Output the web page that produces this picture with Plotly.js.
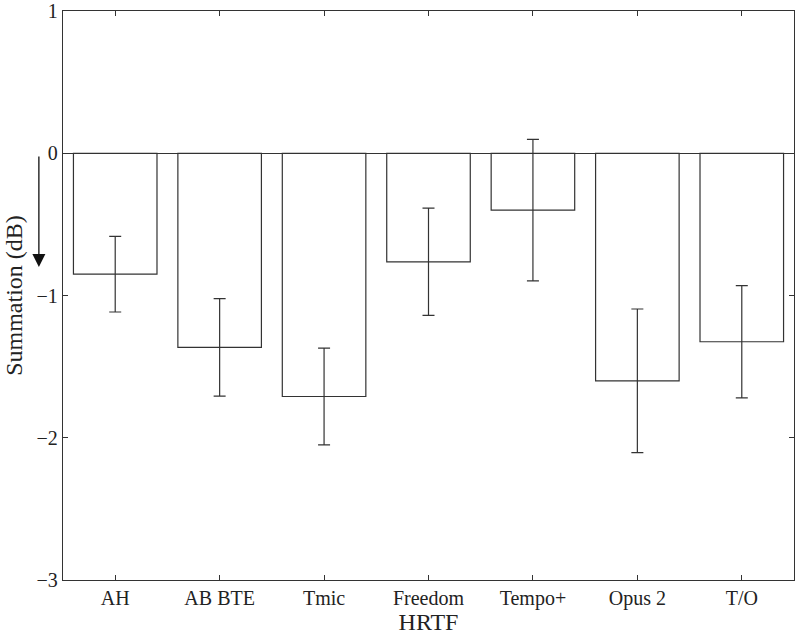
<!DOCTYPE html>
<html>
<head>
<meta charset="utf-8">
<script src="https://cdn.plot.ly/plotly-3.0.1.min.js"></script>
<style>
  html, body { margin: 0; padding: 0; background: #fff; }
  #myPlot { width: 800px; height: 636px; }
</style>
</head>
<body>
<div id="myPlot"></div>
<script>
// HRTF conditions and summation means / error half-widths (dB)
var hrtfLabels = ['AH', 'AB BTE', 'Tmic', 'Freedom', 'Tempo+', 'Opus 2', 'T/O'];
var summationMeans = [-0.85, -1.365, -1.71, -0.763, -0.40, -1.60, -1.325];
var summationErrs = [0.266, 0.343, 0.34, 0.377, 0.497, 0.505, 0.395];
var yTicks = [-3, -2, -1, 0, 1];
var yTickText = ['\u22123', '\u22122', '\u22121', '0', '1'];

var lineCol = '#333333';
var fontFam = 'Liberation Serif';

var trace1 = {
	x: hrtfLabels,
	y: summationMeans,
	type: 'bar',
	width: 0.8,
	marker: {color: 'rgba(255,255,255,0)', line: {color: lineCol, width: 1.2}},
	error_y: {type: 'data', array: summationErrs, visible: true, color: lineCol, thickness: 1.2, width: 6},
	hoverinfo: 'none'
};

var plotLayout = {
	width: 800,
	height: 636,
	margin: {l: 63, r: 6, t: 11, b: 56},
	paper_bgcolor: '#fff',
	plot_bgcolor: '#fff',
	showlegend: false,
	font: {family: fontFam, size: 20, color: '#222'},
	xaxis: {
		title: {text: 'HRTF', font: {family: fontFam, size: 24}, standoff: 0},
		range: [-0.5, 6.5],
		showline: true,
		mirror: 'ticks',
		linecolor: lineCol,
		linewidth: 1.2,
		ticks: 'inside',
		ticklen: 5,
		tickcolor: lineCol,
		showgrid: false,
		zeroline: false,
		tickfont: {family: fontFam, size: 20}
	},
	yaxis: {
		title: {text: 'Summation (dB)', font: {family: fontFam, size: 24}, standoff: 7},
		range: [-3, 1],
		tickvals: yTicks,
		ticktext: yTickText,
		showline: true,
		mirror: 'ticks',
		linecolor: lineCol,
		linewidth: 1.2,
		ticks: 'inside',
		ticklen: 5,
		tickcolor: lineCol,
		showgrid: false,
		zeroline: true,
		zerolinecolor: lineCol,
		zerolinewidth: 1.2,
		tickfont: {family: fontFam, size: 20}
	},
	annotations: [
		{
			xref: 'paper', yref: 'y',
			x: -0.033, y: -0.80,
			ax: 0, ay: -112,
			axref: 'pixel', ayref: 'pixel',
			text: '',
			showarrow: true,
			arrowhead: 2,
			arrowsize: 2,
			arrowwidth: 1.3,
			arrowcolor: '#111'
		}
	]
};

var myPlot = document.getElementById('myPlot');
Plotly.newPlot(myPlot, [trace1], plotLayout, {displayModeBar: false, staticPlot: true});
</script>
</body>
</html>
